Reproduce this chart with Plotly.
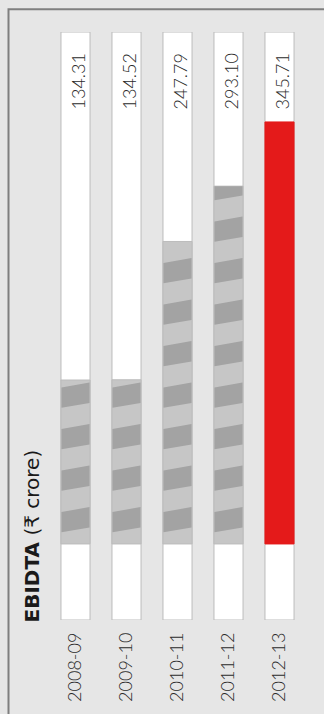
import plotly.graph_objects as go

# ---- data ----
years = ["2008-09", "2009-10", "2010-11", "2011-12", "2012-13"]
ebidta = [134.31, 134.52, 247.79, 293.10, 345.71]
highlight_year = "2012-13"

# ---- layout / style constants ----
W, H = 324, 714
ML, MR, MT, MB = 50, 19, 32, 87
Y_MIN, Y_MAX = -62.3, 419.4          # extent of the white track (data units)
BAR_W = 0.57
STRIPE_PERIOD = 34.0
STRIPE_LO, STRIPE_HI = 11.5, 28.2
STRIPE_SKEW = 2.0

BG = "#e6e6e6"
TRACK_LINE = "#bcbcbc"
LIGHT = "#c6c6c6"
DARK = "#a3a3a3"
RED = "#e41a1a"
TXT = "#2b2b2b"
FONT = "Lato"
TITLE_FONT = "DejaVu Sans"

plot_w = W - ML - MR
plot_h = H - MT - MB

x_idx = list(range(len(years)))


def clip_below(pts, ymax):
    out = []
    n = len(pts)
    for i in range(n):
        p, q = pts[i], pts[(i + 1) % n]
        pin, qin = p[1] <= ymax, q[1] <= ymax
        if pin:
            out.append(p)
        if pin != qin:
            t = (ymax - p[1]) / (q[1] - p[1])
            out.append((p[0] + t * (q[0] - p[0]), ymax))
    return out


fig = go.Figure()

# white tracks
fig.add_trace(go.Bar(
    x=x_idx, y=[Y_MAX - Y_MIN] * len(years), base=[Y_MIN] * len(years),
    width=BAR_W, marker=dict(color="white", line=dict(color=TRACK_LINE, width=1)),
    hoverinfo="skip", showlegend=False))

# value bars
fill_colors = [RED if y == highlight_year else LIGHT for y in years]
line_colors = [RED if y == highlight_year else TRACK_LINE for y in years]
fig.add_trace(go.Bar(
    x=x_idx, y=ebidta, base=[0] * len(years), width=BAR_W,
    marker=dict(color=fill_colors, line=dict(color=line_colors, width=1)),
    hoverinfo="skip", showlegend=False))

# diagonal stripes on non-highlighted bars
sx, sy = [], []
half = BAR_W / 2 - 0.01
for i, (yr, v) in enumerate(zip(years, ebidta)):
    if yr == highlight_year:
        continue
    k = 0
    while STRIPE_LO + k * STRIPE_PERIOD - STRIPE_SKEW < v:
        lo = STRIPE_LO + k * STRIPE_PERIOD
        hi = STRIPE_HI + k * STRIPE_PERIOD
        pts = [(i - half, lo - STRIPE_SKEW), (i + half, lo + STRIPE_SKEW),
               (i + half, hi + STRIPE_SKEW), (i - half, hi - STRIPE_SKEW)]
        pts = clip_below(pts, v)
        if len(pts) >= 3:
            for px, py in pts:
                sx.append(px)
                sy.append(py)
            sx.append(pts[0][0])
            sy.append(pts[0][1])
            sx.append(None)
            sy.append(None)
        k += 1
fig.add_trace(go.Scatter(
    x=sx, y=sy, mode="lines", fill="toself", fillcolor=DARK,
    line=dict(width=0, color=DARK), hoverinfo="skip", showlegend=False))

# value labels
for i, v in enumerate(ebidta):
    fig.add_annotation(
        x=i, y=Y_MAX, xref="x", yref="y", text=f"{v:.2f}", textangle=-90,
        xanchor="center", yanchor="top", yshift=-20, xshift=2, showarrow=False,
        font=dict(family=FONT, size=18, color=TXT, weight=300))

# title
fig.add_annotation(
    x=(31 - ML) / plot_w, xref="paper", y=Y_MIN, yref="y", yshift=-5,
    text="<b>EBIDTA</b> (₹ crore)", textangle=-90, xanchor="center",
    yanchor="bottom", showarrow=False,
    font=dict(family=TITLE_FONT, size=20, color="#1a1a1a"))

# frame (left + top border)
fx0 = (8.5 - ML) / plot_w
fy0 = 1 + (MT - 9) / plot_h
fig.add_shape(type="path", xref="paper", yref="paper",
              path=f"M {fx0},-0.5 L {fx0},{fy0} L 1.5,{fy0}",
              line=dict(color="#7f7f7f", width=2))

fig.update_layout(
    width=W, height=H, margin=dict(l=ML, r=MR, t=MT, b=MB),
    paper_bgcolor=BG, plot_bgcolor=BG, barmode="overlay",
    showlegend=False,
    xaxis=dict(range=[-0.5, len(years) - 0.5], tickvals=x_idx, ticktext=years,
               tickangle=-90, showgrid=False, zeroline=False, showline=False,
               ticks="", ticklabelstandoff=8,
               tickfont=dict(family=FONT, size=18, color=TXT, weight=300),
               fixedrange=True),
    yaxis=dict(range=[Y_MIN, Y_MAX], visible=False, fixedrange=True),
)

fig.write_html("out.html")
